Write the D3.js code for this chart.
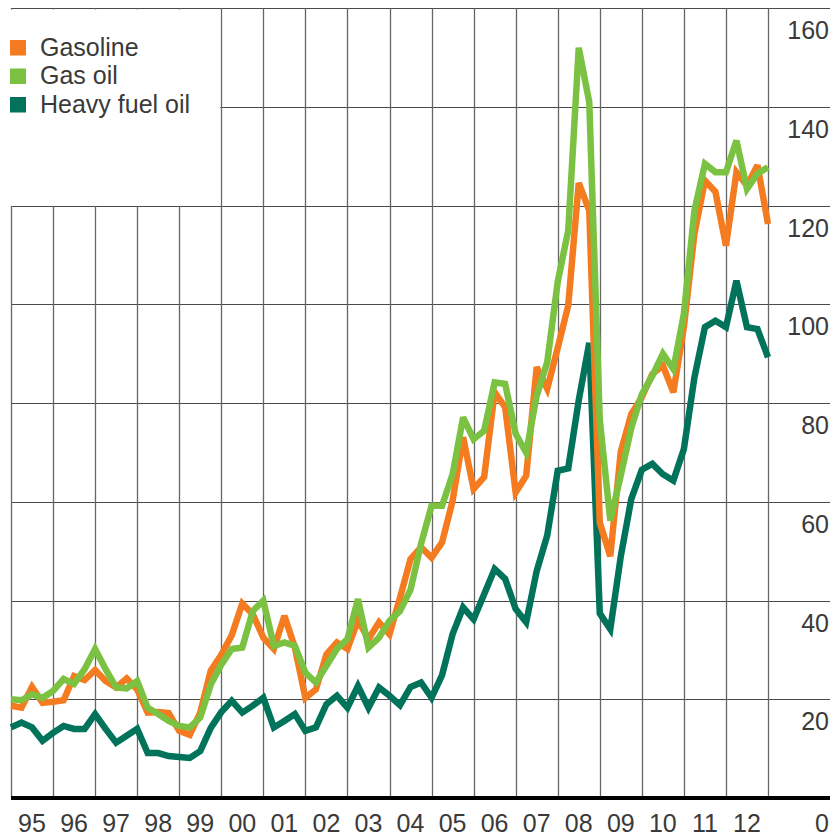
<!DOCTYPE html>
<html>
<head>
<meta charset="utf-8">
<style>
  body { margin: 0; background: #fff; }
  text { font-family: "Liberation Sans", Arial, sans-serif; fill: #3a3a3a; }
</style>
</head>
<body>
<svg width="835" height="835"></svg>
<script src="https://d3js.org/d3.v7.min.js"></script>
<script>

// year labels along the bottom, one band per year
var years = ['95', '96', '97', '98', '99', '00', '01', '02', '03', '04', '05', '06', '07', '08', '09', '10', '11', '12']
var yTicks = [0, 20, 40, 60, 80, 100, 120, 140, 160]

// quarterly prices, 95 Q1 .. 13 Q1
var gasoline = [18.7, 18.3, 22.5, 19.3, 19.5, 19.8, 24.7, 23.9, 25.9, 23.7,
  22.4, 24.2, 22, 17.3, 17.4, 17.2, 13.6, 12.8, 17.3, 25.8,
  29, 33, 39.4, 37.2, 32.5, 30.2, 36.9, 30.5, 20.3, 22,
  29.1, 31.5, 30.2, 36, 32.2, 35.6, 33.2, 40.6, 48.4, 50.8,
  48.7, 51.8, 60.2, 73.1, 62.6, 65, 82.2, 79.2, 61.9, 65.3,
  87.3, 82.9, 91.2, 99.8, 124.6, 119, 55.8, 49, 70.2, 77.8,
  81.2, 85.9, 87.6, 82.2, 95.4, 114.3, 125.1, 122.8, 111.9, 126.8,
  124.1, 128.2, 116.3]

var gasOil = [20, 19.8, 21, 20.3, 21.7, 24.1, 23.1, 26.1, 30.2, 26.1,
  22.4, 22.2, 23.7, 18.3, 17, 15.6, 14.6, 14.3, 16.3, 23,
  27, 30.2, 30.5, 37.9, 40, 30.8, 31.5, 30.8, 25.4, 23.4,
  26.8, 30.2, 32.2, 40.3, 30.5, 32.5, 35.9, 37.9, 42.2, 51.5,
  59.2, 59.2, 65.6, 77.1, 72.7, 74.4, 84.2, 83.9, 73.8, 70,
  81.5, 88.3, 104.6, 115, 152, 141, 76.6, 56.2, 65.4, 75,
  81.8, 85.5, 90, 86.9, 98.1, 119, 128.5, 126.8, 126.8, 133.2,
  123.4, 126.5, 127.8]

var heavyFuelOil = [14.3, 15.3, 14.3, 11.6, 13.2, 14.6, 14, 14, 17, 14,
  11.2, 12.6, 14, 9.1, 9.1, 8.5, 8.3, 8.1, 9.5, 14.2,
  17.4, 19.7, 17.3, 18.7, 20.3, 14.3, 15.6, 17, 13.6, 14.3,
  19, 20.7, 18.3, 22.7, 18.3, 22.4, 20.7, 18.8, 22.5, 23.4,
  20.3, 24.9, 33.2, 38.6, 36.2, 41.3, 46.4, 44.4, 38.3, 35.6,
  46, 53.2, 66.3, 66.8, 80.6, 92.2, 37.4, 34.2, 49, 60.6,
  66.5, 67.7, 65.6, 64.3, 70.7, 85.2, 95.4, 96.7, 95.4, 104.8,
  95.4, 95, 89.3]

var series = [
  { name: 'Heavy fuel oil', values: heavyFuelOil, color: '#00735a' },
  { name: 'Gasoline', values: gasoline, color: '#f47b20' },
  { name: 'Gas oil', values: gasOil, color: '#7bc142' }
]
var legendOrder = ['Gasoline', 'Gas oil', 'Heavy fuel oil']

var svg = d3.select('svg')

var left = 11, right = 768, gridRight = 830

var x = d3.scaleLinear().domain([0, gasoline.length - 1]).range([left, right])
var xBand = d3.scaleBand().domain(years).range([left, right])
var y = d3.scaleLinear().domain([0, 160]).range([798, 8.3])

// horizontal grid
svg.append('g').selectAll('line')
  .data(yTicks.filter(function (d) { return d > 0 }))
  .enter().append('line')
  .attr('x1', left).attr('x2', gridRight)
  .attr('y1', function (d) { return Math.round(y(d)) + 0.5 })
  .attr('y2', function (d) { return Math.round(y(d)) + 0.5 })
  .attr('stroke', '#4a4a4a').attr('stroke-width', 1)

// vertical grid at year boundaries
var xLines = years.map(function (d) { return xBand(d) }).concat([right])
svg.append('g').selectAll('line')
  .data(xLines)
  .enter().append('line')
  .attr('x1', function (d) { return Math.round(d) + 0.5 })
  .attr('x2', function (d) { return Math.round(d) + 0.5 })
  .attr('y1', y(160)).attr('y2', y(0))
  .attr('stroke', '#666').attr('stroke-width', 1.3)

// legend area blanks the grid behind it
svg.append('rect')
  .attr('x', 0).attr('y', Math.round(y(160)) + 1.5)
  .attr('width', xBand('00') - 1).attr('height', Math.round(y(120)) - Math.round(y(160)) - 1.5)
  .attr('fill', '#fff')

// baseline
svg.append('line')
  .attr('x1', left).attr('x2', gridRight)
  .attr('y1', y(0)).attr('y2', y(0))
  .attr('stroke', '#000').attr('stroke-width', 4)

// price lines
var line = d3.line()
  .x(function (d, i) { return x(i) })
  .y(function (d) { return y(d) })

svg.append('g').selectAll('path')
  .data(series)
  .enter().append('path')
  .attr('d', function (s) { return line(s.values) })
  .attr('fill', 'none')
  .attr('stroke', function (s) { return s.color })
  .attr('stroke-width', 6.5)
  .attr('stroke-linejoin', 'miter')
  .attr('stroke-miterlimit', 3)

// value labels on the right, hanging under each grid line
svg.append('g').selectAll('text')
  .data(yTicks)
  .enter().append('text')
  .attr('x', 829)
  .attr('y', function (d) { return d === 0 ? 832 : y(d) + 31 })
  .attr('text-anchor', 'end')
  .attr('font-size', 25)
  .text(function (d) { return d })

// year labels
svg.append('g').selectAll('text')
  .data(years)
  .enter().append('text')
  .attr('x', function (d) { return xBand(d) + xBand.bandwidth() / 2 })
  .attr('y', 832)
  .attr('text-anchor', 'middle')
  .attr('font-size', 25)
  .text(function (d) { return d })

// legend
var legend = svg.append('g').selectAll('g')
  .data(legendOrder)
  .enter().append('g')
  .attr('transform', function (d, i) { return 'translate(10,' + (40 + i * 28.5) + ')' })

legend.append('rect')
  .attr('width', 16).attr('height', 15.5)
  .attr('fill', function (d) { return series.find(function (s) { return s.name === d }).color })

legend.append('text')
  .attr('x', 30).attr('y', 15.5)
  .attr('font-size', 25)
  .text(function (d) { return d })

</script>
</body>
</html>
